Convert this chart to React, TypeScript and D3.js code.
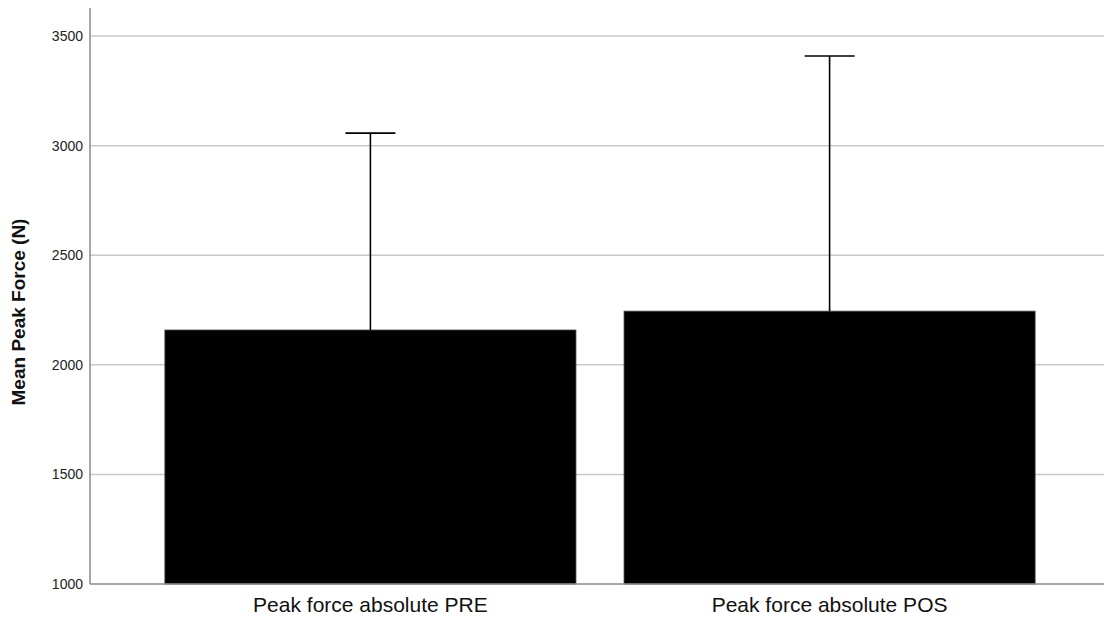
import React from "react";
import * as d3 from "d3";

// Mean peak force per test, with upper error bar values
const categories = ["Peak force absolute PRE", "Peak force absolute POS"];
const means = [2159, 2245];
const upperErrors = [3057, 3409];
const yTicks = [1000, 1500, 2000, 2500, 3000, 3500];

const W = 1104;
const H = 619;
const left = 90;
const bottom = 584;
const top = 8;

export default function App() {
  const y = d3.scaleLinear().domain([1000, 3628]).range([bottom, top]);
  const x = d3
    .scaleBand<string>()
    .domain(categories)
    .range([left, 1110])
    .paddingInner(0.1046)
    .paddingOuter(0.163);
  const bw = x.bandwidth();
  const capHalf = 25;

  return (
    <svg
      width={W}
      height={H}
      style={{ position: "absolute", left: 0, top: 0, background: "#fff" }}
      fontFamily="'Liberation Sans', Arial, sans-serif"
    >
      {/* gridlines */}
      {yTicks.slice(1).map((t) => (
        <line key={t} x1={left} x2={W} y1={y(t)} y2={y(t)} stroke="#c8c8c8" strokeWidth={1.5} />
      ))}
      {/* bars */}
      {categories.map((c, i) => (
        <rect
          key={c}
          x={x(c)!}
          y={y(means[i])}
          width={bw}
          height={bottom - y(means[i])}
          fill="#000"
          stroke="#555"
          strokeWidth={0.8}
        />
      ))}
      {/* error bars */}
      {categories.map((c, i) => {
        const cx = x(c)! + bw / 2;
        return (
          <g key={c} stroke="#000" strokeWidth={1.6}>
            <line x1={cx} x2={cx} y1={y(means[i])} y2={y(upperErrors[i])} />
            <line x1={cx - capHalf} x2={cx + capHalf} y1={y(upperErrors[i])} y2={y(upperErrors[i])} />
          </g>
        );
      })}
      {/* axes */}
      <line x1={left} x2={left} y1={top} y2={bottom} stroke="#8a8a8a" strokeWidth={1.5} />
      <line x1={left} x2={W} y1={bottom} y2={bottom} stroke="#8a8a8a" strokeWidth={1.5} />
      {yTicks.map((t) => (
        <text key={t} x={83} y={y(t)} dy="0.35em" textAnchor="end" fontSize={14} fill="#222">
          {t}
        </text>
      ))}
      {categories.map((c) => (
        <text key={c} x={x(c)! + bw / 2} y={612} textAnchor="middle" fontSize={21} fill="#111">
          {c}
        </text>
      ))}
      <text
        transform={`translate(25,312) rotate(-90)`}
        textAnchor="middle"
        fontSize={19}
        fontWeight="bold"
        fill="#111"
      >
        Mean Peak Force (N)
      </text>
    </svg>
  );
}
